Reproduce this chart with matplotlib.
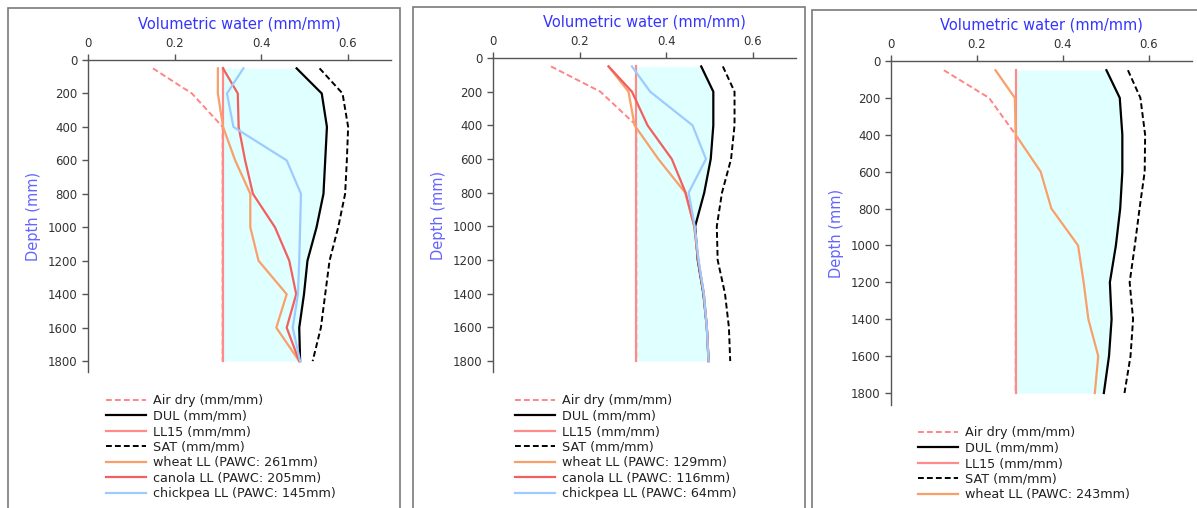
import numpy as np
import matplotlib
matplotlib.use('Agg')
import matplotlib.pyplot as plt
from matplotlib.patches import Rectangle

# layer mid-depths (mm)
depth = [50, 200, 400, 600, 800, 1000, 1200, 1400, 1600, 1800]

# --- soil 1 ---
airdry1 = [0.150, 0.240, 0.311, 0.311, 0.311, 0.311, 0.311, 0.311, 0.311, 0.311]
ll15_1 = [0.311, 0.311, 0.311, 0.311, 0.311, 0.311, 0.311, 0.311, 0.311, 0.311]
dul1 = [0.482, 0.540, 0.552, 0.548, 0.544, 0.528, 0.507, 0.499, 0.488, 0.490]
sat1 = [0.535, 0.588, 0.601, 0.598, 0.594, 0.578, 0.558, 0.548, 0.538, 0.519]
wheat1 = [0.300, 0.300, 0.312, 0.340, 0.375, 0.375, 0.394, 0.459, 0.435, 0.488]
canola1 = [0.312, 0.346, 0.348, 0.363, 0.381, 0.432, 0.465, 0.481, 0.459, 0.488]
chickpea1 = [0.359, 0.321, 0.336, 0.459, 0.492, 0.490, 0.488, 0.485, 0.473, 0.490]

# --- soil 2 ---
airdry2 = [0.134, 0.248, 0.331, 0.331, 0.331, 0.331, 0.331, 0.331, 0.331, 0.331]
ll15_2 = [0.331, 0.331, 0.331, 0.331, 0.331, 0.331, 0.331, 0.331, 0.331, 0.331]
dul2 = [0.481, 0.509, 0.509, 0.503, 0.488, 0.467, 0.473, 0.486, 0.494, 0.498]
sat2 = [0.531, 0.558, 0.558, 0.550, 0.529, 0.517, 0.519, 0.536, 0.545, 0.548]
wheat2 = [0.267, 0.313, 0.327, 0.382, 0.444, 0.465, 0.474, 0.487, 0.494, 0.498]
canola2 = [0.267, 0.321, 0.357, 0.413, 0.445, 0.465, 0.474, 0.487, 0.494, 0.498]
chickpea2 = [0.321, 0.363, 0.461, 0.492, 0.452, 0.466, 0.475, 0.487, 0.494, 0.498]

# --- soil 3 ---
airdry3 = [0.123, 0.228, 0.290, 0.290, 0.290, 0.290, 0.290, 0.290, 0.290, 0.290]
ll15_3 = [0.290, 0.290, 0.290, 0.290, 0.290, 0.290, 0.290, 0.290, 0.290, 0.290]
dul3 = [0.501, 0.532, 0.538, 0.538, 0.533, 0.523, 0.509, 0.513, 0.507, 0.495]
sat3 = [0.551, 0.580, 0.591, 0.590, 0.578, 0.567, 0.555, 0.563, 0.557, 0.543]
wheat3 = [0.243, 0.288, 0.290, 0.348, 0.373, 0.435, 0.448, 0.459, 0.482, 0.474]

crops1 = [('wheat LL (PAWC: 261mm)', wheat1), ('canola LL (PAWC: 205mm)', canola1),
          ('chickpea LL (PAWC: 145mm)', chickpea1)]
crops2 = [('wheat LL (PAWC: 129mm)', wheat2), ('canola LL (PAWC: 116mm)', canola2),
          ('chickpea LL (PAWC: 64mm)', chickpea2)]
crops3 = [('wheat LL (PAWC: 243mm)', wheat3)]

xticks = [0, 0.2, 0.4, 0.6]
xticklabels = ['0', '0.2', '0.4', '0.6']
yticks = [0, 200, 400, 600, 800, 1000, 1200, 1400, 1600, 1800]

crop_colors = ['#f9a06a', '#f0605e', '#9ecbff']

W, H = 1197, 508
fig = plt.figure(figsize=(W / 100, H / 100), dpi=100)
fig.patch.set_facecolor('white')

# panel frames (pixels: left, top, right)
for l, t, r in [(8, 8, 400), (413, 7, 805), (812, 10, 1210)]:
    fig.add_artist(Rectangle((l / W, -0.05), (r - l) / W, 1.05 - t / H,
                             transform=fig.transFigure, fill=False,
                             edgecolor='#7a7a7a', lw=1.2))


def px_axes(left, top, right, bottom):
    return fig.add_axes([left / W, 1 - bottom / H, (right - left) / W, (bottom - top) / H])


def draw(ax, airdry, ll15, dul, sat, crops, legend_xy):
    ax.fill_betweenx(depth, ll15, dul, color='#e0ffff', lw=0)
    handles = []
    handles += ax.plot(airdry, depth, color='#ff8585', ls='--', dashes=(3, 1.6), lw=1.4,
                       label='Air dry (mm/mm)')
    handles += ax.plot(dul, depth, color='black', lw=1.6, label='DUL (mm/mm)')
    handles += ax.plot(ll15, depth, color='#ff8a8a', lw=1.6, label='LL15 (mm/mm)')
    handles += ax.plot(sat, depth, color='black', ls='--', dashes=(3, 1.6), lw=1.4,
                       label='SAT (mm/mm)')
    for (lab, vals), c in zip(crops, crop_colors):
        handles += ax.plot(vals, depth, color=c, lw=1.6, label=lab)

    ax.set_xlim(0, 0.7)
    ax.set_ylim(1865, 0)
    ax.xaxis.tick_top()
    ax.xaxis.set_label_position('top')
    ax.set_xticks(xticks)
    ax.set_xticklabels(xticklabels)
    ax.set_yticks(yticks)
    ax.tick_params(axis='both', colors='#555555', labelcolor='#333333',
                   labelsize=8.5, length=4, width=1, direction='out')
    for s in ['right', 'bottom']:
        ax.spines[s].set_visible(False)
    for s in ['left', 'top']:
        ax.spines[s].set_color('#555555')
        ax.spines[s].set_linewidth(1)
    ax.set_xlabel('Volumetric water (mm/mm)', color='#3434ff', fontsize=10.5, labelpad=6)
    ax.set_ylabel('Depth (mm)', color='#6464ff', fontsize=10.5, labelpad=5)
    ax.set_facecolor('none')

    lx, ly = legend_xy
    ax.legend(handles=handles, loc='upper left', bbox_to_anchor=(lx / W, 1 - ly / H),
              bbox_transform=fig.transFigure, frameon=False, fontsize=9.2,
              handlelength=3.1, handletextpad=0.55, labelspacing=0.2, borderpad=0,
              borderaxespad=0, labelcolor='#222222')


ax1 = px_axes(88, 60, 391, 372)
draw(ax1, airdry1, ll15_1, dul1, sat1, crops1, (106, 394))
ax2 = px_axes(493, 58, 796, 372)
draw(ax2, airdry2, ll15_2, dul2, sat2, crops2, (515, 394))
ax3 = px_axes(891, 61, 1192, 405)
draw(ax3, airdry3, ll15_3, dul3, sat3, crops3, (918, 426))

fig.savefig('out.png', dpi=100, facecolor='white')
